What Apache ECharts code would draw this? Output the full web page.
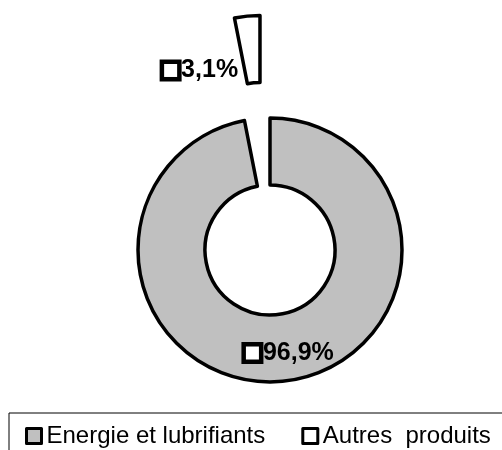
<!DOCTYPE html>
<html>
<head>
    <meta charset="utf-8">
    <script src="https://cdn.jsdelivr.net/npm/echarts@6/dist/echarts.min.js"></script>
    <style>
        body, html {
            margin: 0;
            height: 100%;
            background: #fff;
        }
        #main {
            width: 502px;
            height: 450px;
        }
    </style>
</head>
<body>
<div id="main"></div>

<script>
    // donnees
    var categories = ['Energie et lubrifiants', 'Autres  produits'];
    var values = [96.9, 3.1];
    var colors = ['#c0c0c0', '#ffffff'];
    var labelOffsets = [[10, 2], [-49, 24]];

    var center = [270, 250];
    var explode = 103;   // decalage de la part detachee

    var myChart = echarts.init(document.getElementById('main'));

    // angle median de la part detachee (depuis le haut, sens horaire)
    var total = values[0] + values[1];
    var midAngle = (values[0] + values[1] / 2) / total * 2 * Math.PI;
    var center2 = [
        center[0] + explode * Math.sin(midAngle),
        center[1] - explode * Math.cos(midAngle)
    ];

    function labelFmt(p) {
        return '{box|}{t|' + String(p.value).replace('.', ',') + '%}';
    }

    var richStyle = {
        box: {
            width: 13,
            height: 13,
            backgroundColor: '#fff',
            borderColor: '#000',
            borderWidth: 4.5
        },
        t: {
            fontSize: 25,
            fontWeight: 'bold',
            color: '#000',
            padding: [0, 0, 0, 4]
        }
    };

    // une serie par part : seule la part concernee est visible dans chacune
    function buildData(visibleIdx) {
        return categories.map(function (name, i) {
            var shown = i === visibleIdx;
            return {
                name: name,
                value: values[i],
                itemStyle: shown
                    ? {color: colors[i], borderColor: '#000', borderWidth: 3.5}
                    : {color: 'rgba(0,0,0,0)', borderWidth: 0},
                label: {show: shown, offset: labelOffsets[i]}
            };
        });
    }

    function pieSeries(c, visibleIdx) {
        return {
            type: 'pie',
            center: c,
            radius: [65, 132],
            startAngle: 90,
            clockwise: true,
            avoidLabelOverlap: false,
            emphasis: {disabled: true},
            label: {
                position: 'inside',
                formatter: labelFmt,
                rich: richStyle
            },
            labelLine: {show: false},
            data: buildData(visibleIdx)
        };
    }

    var option = {
        animation: false,
        color: colors,
        textStyle: {fontFamily: 'Liberation Sans, Arial, sans-serif'},
        legend: {
            left: 9,
            top: 413,
            width: 700,
            orient: 'horizontal',
            padding: [11, 60, 30, 16],
            borderColor: '#000',
            borderWidth: 1,
            itemWidth: 15,
            itemHeight: 15,
            itemGap: 36,
            itemTextGap: 7,
            selectedMode: false,
            icon: 'rect',
            itemStyle: {borderColor: '#000', borderWidth: 3},
            textStyle: {fontSize: 24, color: '#000'},
            data: [
                {name: categories[0], itemStyle: {color: colors[0]}},
                {name: categories[1], itemStyle: {color: colors[1]}}
            ]
        },
        series: [
            pieSeries(center, 0),
            pieSeries(center2, 1)
        ]
    };

    myChart.setOption(option);
</script>
</body>
</html>
